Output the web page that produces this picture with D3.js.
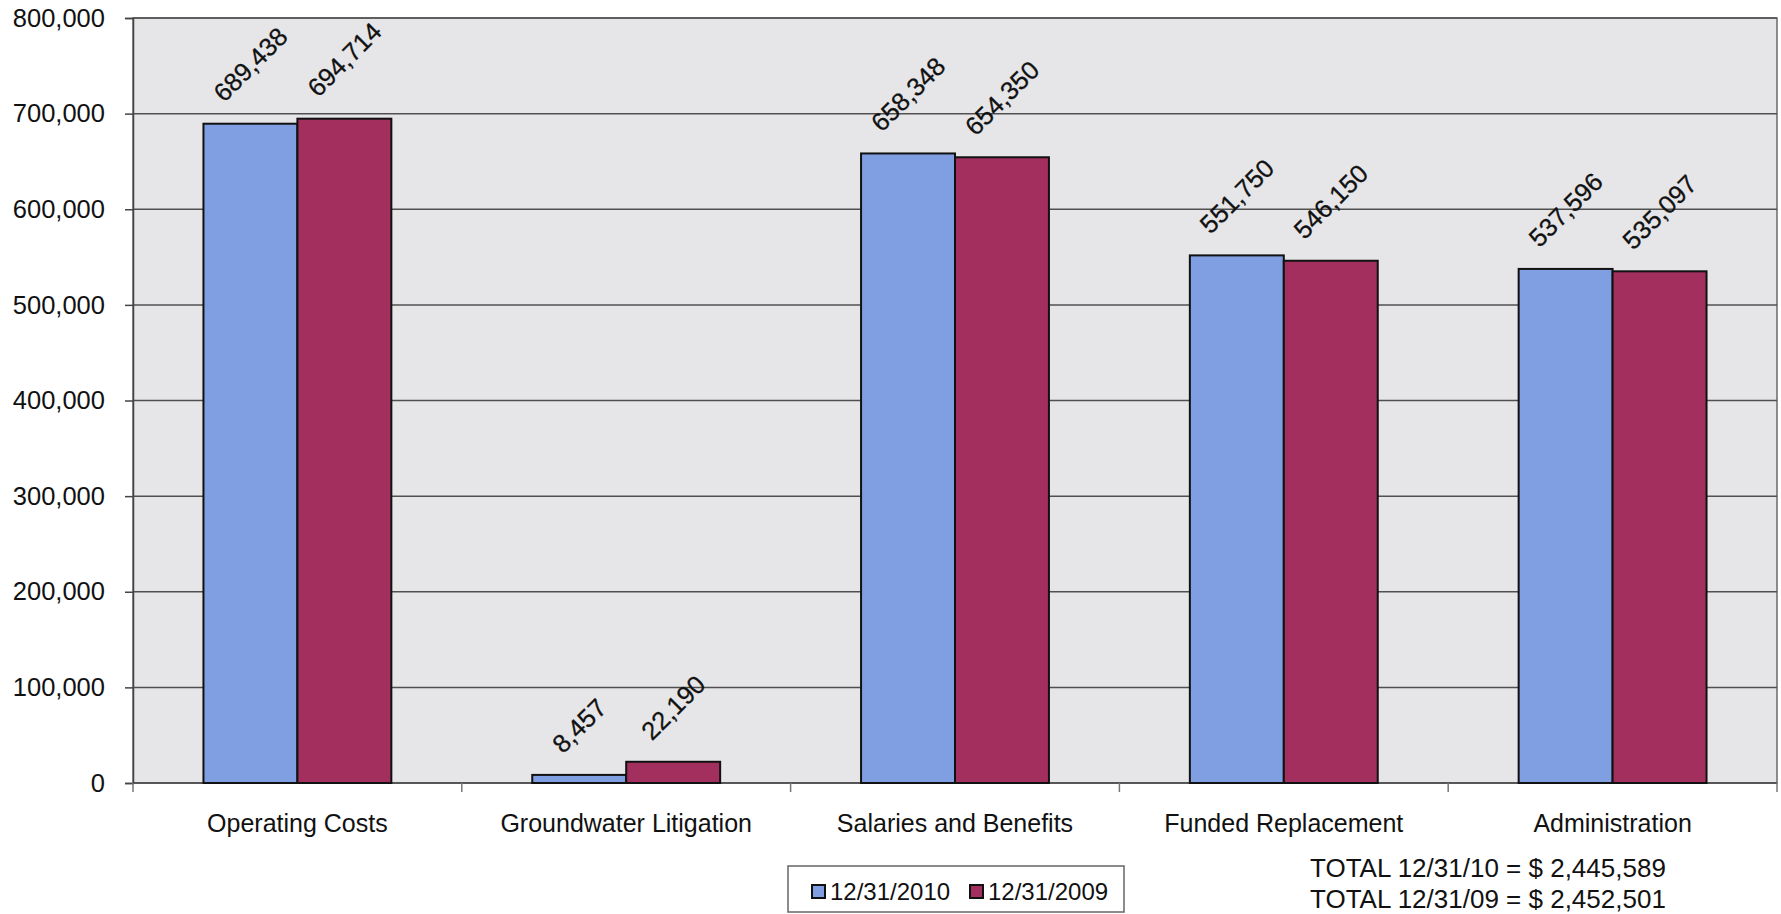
<!DOCTYPE html>
<html>
<head>
<meta charset="utf-8">
<script src="https://cdn.jsdelivr.net/npm/d3@7"></script>
<style>
  html, body { margin: 0; padding: 0; background: #ffffff; }
  svg { display: block; font-family: "Liberation Sans", Arial, sans-serif; }
</style>
</head>
<body>
<svg id="chart" width="1781" height="914"></svg>
<script>
// Expense categories and the two year-end series
const categories = ["Operating Costs", "Groundwater Litigation", "Salaries and Benefits", "Funded Replacement", "Administration"];
const seriesNames = ["12/31/2010", "12/31/2009"];
const values2010 = [689438, 8457, 658348, 551750, 537596];
const values2009 = [694714, 22190, 654350, 546150, 535097];
const yTicks = [0, 100000, 200000, 300000, 400000, 500000, 600000, 700000, 800000];
const totalLines = ["TOTAL 12/31/10 = $ 2,445,589", "TOTAL 12/31/09 = $ 2,452,501"];

const colors = ["#7f9fe2", "#a22f5e"];
const series = [values2010, values2009];

const svg = d3.select("#chart");
const plot = { left: 133, right: 1777, top: 18, bottom: 783 };

const y = d3.scaleLinear().domain([0, 800000]).range([plot.bottom, plot.top]);
const x = d3.scaleBand().domain(categories).range([plot.left, plot.right]).padding(0);
const gapRatio = 1.5; // gap width between groups, relative to one bar
const barW = x.bandwidth() / (series.length + gapRatio);

// Plot area background
svg.append("rect")
  .attr("x", plot.left).attr("y", plot.top)
  .attr("width", plot.right - plot.left).attr("height", plot.bottom - plot.top)
  .attr("fill", "#e6e6e9")
  .attr("stroke", "#6a6a6a").attr("stroke-width", 1.5);

// Horizontal gridlines
svg.append("g").selectAll("line")
  .data(yTicks.filter(d => d > 0))
  .join("line")
  .attr("x1", plot.left).attr("x2", plot.right)
  .attr("y1", d => y(d)).attr("y2", d => y(d))
  .attr("stroke", "#505050").attr("stroke-width", 1.5);

// Y axis
const yAxis = d3.axisLeft(y)
  .tickValues(yTicks)
  .tickFormat(d3.format(","))
  .tickSize(8)
  .tickPadding(20);
const gy = svg.append("g").attr("transform", `translate(${plot.left},0)`).call(yAxis);
gy.select(".domain").attr("stroke", "#444").attr("stroke-width", 1.5);
gy.selectAll(".tick line").attr("stroke", "#444").attr("stroke-width", 1.5);
gy.selectAll(".tick text")
  .attr("font-size", 25.5).attr("fill", "#111")
  .attr("font-family", "'Liberation Sans', Arial, sans-serif");

// X axis with ticks on category boundaries
const gx = svg.append("g").attr("transform", `translate(0,${plot.bottom})`);
gx.append("line")
  .attr("x1", plot.left).attr("x2", plot.right)
  .attr("stroke", "#444").attr("stroke-width", 1.5);
gx.selectAll("line.tk")
  .data(d3.range(categories.length + 1))
  .join("line").attr("class", "tk")
  .attr("x1", i => plot.left + i * x.step()).attr("x2", i => plot.left + i * x.step())
  .attr("y1", 0).attr("y2", 9)
  .attr("stroke", "#777").attr("stroke-width", 1.5);
gx.selectAll("text")
  .data(categories)
  .join("text")
  .attr("x", d => x(d) + x.bandwidth() / 2)
  .attr("y", 49)
  .attr("text-anchor", "middle")
  .attr("font-size", 25)
  .attr("fill", "#111")
  .text(d => d);

// Bars
const barData = [];
categories.forEach((c, ci) => {
  series.forEach((s, si) => {
    const bx = x(c) + x.bandwidth() / 2 - barW * series.length / 2 + si * barW;
    barData.push({ c, si, v: s[ci], x: bx });
  });
});

svg.append("g").selectAll("rect")
  .data(barData)
  .join("rect")
  .attr("x", d => d.x)
  .attr("y", d => y(d.v))
  .attr("width", barW)
  .attr("height", d => y(0) - y(d.v))
  .attr("fill", d => colors[d.si])
  .attr("stroke", "#111")
  .attr("stroke-width", 2);

// Value labels, rotated 45 degrees above each bar
const fmt = d3.format(",");
const labelG = svg.append("g");
barData.forEach(d => {
  const t = labelG.append("text")
    .attr("font-size", 25.5)
    .attr("fill", "#111")
    .attr("stroke", "#111")
    .attr("stroke-width", 0.3)
    .attr("text-anchor", "middle")
    .attr("dominant-baseline", "central")
    .text(fmt(d.v));
  const w = t.node().getComputedTextLength();
  const h = 19;
  const cx = d.x + barW / 2;
  const cy = y(d.v) - 20 - (w + h) / (2 * Math.SQRT2);
  t.attr("transform", `translate(${cx},${cy}) rotate(-45)`);
});

// Legend
const lg = svg.append("g");
lg.append("rect")
  .attr("x", 788).attr("y", 866).attr("width", 336).attr("height", 46)
  .attr("fill", "#fff").attr("stroke", "#666").attr("stroke-width", 1.5);
const legendX = [812, 970];
seriesNames.forEach((name, i) => {
  lg.append("rect")
    .attr("x", legendX[i]).attr("y", 885).attr("width", 13).attr("height", 13)
    .attr("fill", colors[i]).attr("stroke", "#111").attr("stroke-width", 2);
  lg.append("text")
    .attr("x", legendX[i] + 18).attr("y", 900)
    .attr("font-size", 24).attr("fill", "#111")
    .text(name);
});

// Totals note
svg.append("g").selectAll("text")
  .data(totalLines)
  .join("text")
  .attr("x", 1310)
  .attr("y", (d, i) => 877 + i * 31)
  .attr("font-size", 26)
  .attr("fill", "#111")
  .text(d => d);
</script>
</body>
</html>
